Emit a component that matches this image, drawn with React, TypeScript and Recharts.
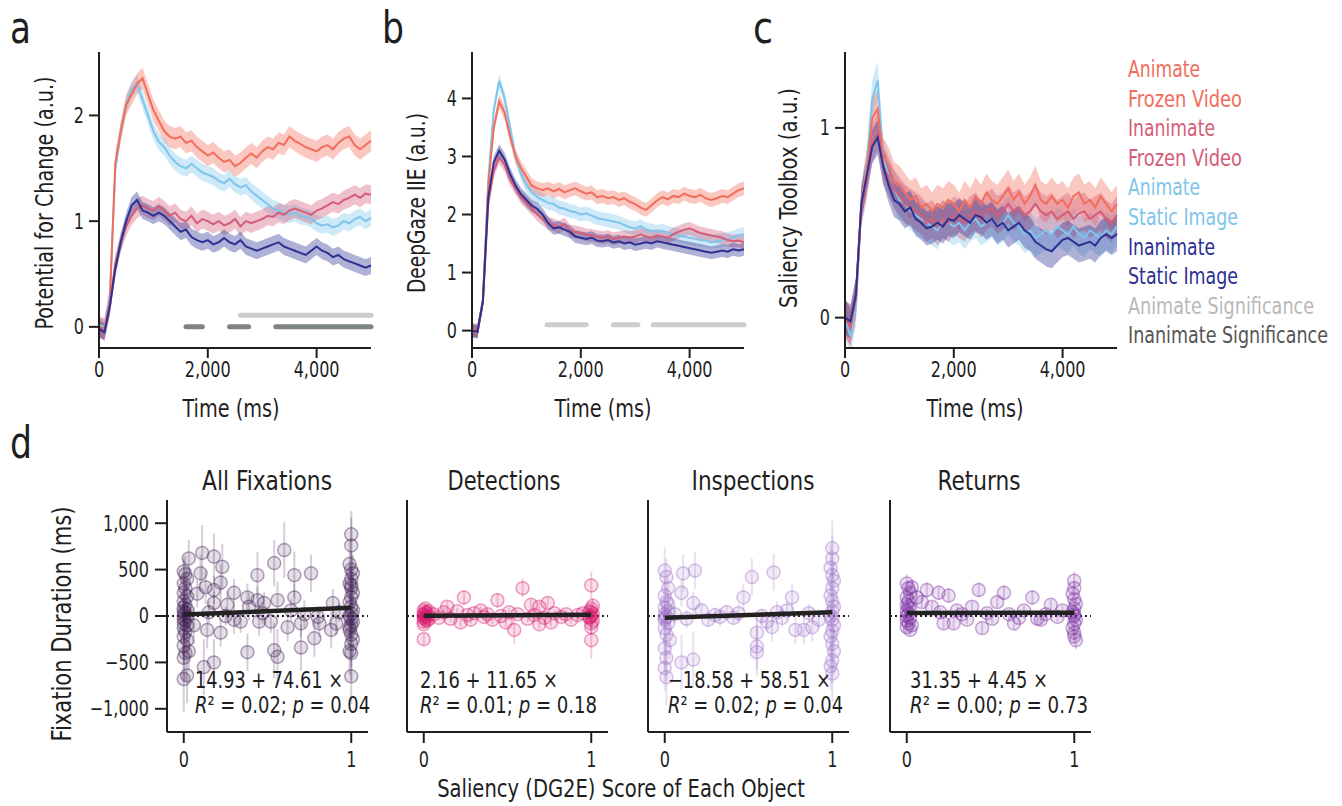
import React, { useLayoutEffect, useRef, useState } from "react";
import {
  ComposedChart,
  Area,
  Line,
  XAxis,
  YAxis,
  ReferenceLine,
  ScatterChart,
  Scatter,
  ErrorBar,
} from "recharts";

const FONT = "'Liberation Sans Narrow', 'DejaVu Sans Condensed', 'Arial Narrow', sans-serif";
const INK = "#1e1e1e";

const COL = { af: "#f26d5b", if: "#d45d78", as: "#7fc4ec", is: "#2c3192" };

// time axis (ms) for panels a–c
const times = [
  0, 100, 200, 300, 400, 500, 600, 700, 800, 900, 1000, 1100, 1200, 1300, 1400, 1500, 1600,
  1700, 1800, 1900, 2000, 2100, 2200, 2300, 2400, 2500, 2600, 2700, 2800, 2900, 3000, 3100,
  3200, 3300, 3400, 3500, 3600, 3700, 3800, 3900, 4000, 4100, 4200, 4300, 4400, 4500, 4600,
  4700, 4800, 4900, 5000,
];

// a: potential for change
const aAF = [0, -0.02, 0.25, 1.55, 1.85, 2.1, 2.2, 2.3, 2.35, 2.2, 2.05, 1.95, 1.85, 1.8, 1.78, 1.8, 1.74, 1.76, 1.7, 1.66, 1.62, 1.65, 1.6, 1.56, 1.58, 1.52, 1.55, 1.6, 1.64, 1.6, 1.66, 1.7, 1.68, 1.74, 1.72, 1.8, 1.76, 1.73, 1.7, 1.68, 1.66, 1.7, 1.72, 1.68, 1.74, 1.78, 1.8, 1.72, 1.68, 1.72, 1.76];
const aAS = [0.02, 0, 0.3, 1.5, 1.85, 2.1, 2.25, 2.3, 2.15, 2.0, 1.85, 1.75, 1.7, 1.62, 1.56, 1.52, 1.5, 1.54, 1.5, 1.46, 1.44, 1.42, 1.38, 1.36, 1.4, 1.35, 1.32, 1.34, 1.28, 1.24, 1.2, 1.16, 1.12, 1.1, 1.08, 1.06, 1.08, 1.05, 1.04, 1.02, 0.98, 0.96, 0.97, 0.94, 0.96, 1.0, 0.98, 1.02, 1.04, 1.0, 1.03];
const aIF = [0, -0.04, 0.2, 0.6, 0.8, 0.95, 1.05, 1.12, 1.15, 1.12, 1.1, 1.14, 1.1, 1.05, 1.08, 1.02, 1.0, 1.05, 0.98, 1.02, 1.0, 0.97, 1.0, 0.96, 0.98, 1.02, 0.95, 1.0, 0.98, 1.0, 1.02, 1.05, 1.04, 1.08, 1.06, 1.1, 1.12, 1.1, 1.08, 1.06, 1.1, 1.12, 1.15, 1.18, 1.16, 1.2, 1.22, 1.25, 1.22, 1.26, 1.25];
const aIS = [-0.02, -0.05, 0.2, 0.55, 0.8, 1.0, 1.15, 1.2, 1.1, 1.08, 1.05, 1.08, 1.05, 1.0, 0.95, 0.9, 0.92, 0.85, 0.82, 0.8, 0.82, 0.78, 0.8, 0.84, 0.8, 0.78, 0.82, 0.76, 0.74, 0.72, 0.74, 0.76, 0.78, 0.8, 0.76, 0.74, 0.72, 0.7, 0.68, 0.72, 0.76, 0.72, 0.7, 0.66, 0.68, 0.64, 0.62, 0.6, 0.58, 0.56, 0.58];

// b: DeepGaze IIE
const bAF = [0.02, 0, 0.5, 2.5, 3.5, 3.95, 3.75, 3.35, 3.0, 2.8, 2.65, 2.5, 2.45, 2.42, 2.45, 2.4, 2.44, 2.38, 2.42, 2.45, 2.4, 2.36, 2.38, 2.3, 2.32, 2.28, 2.3, 2.25, 2.28, 2.22, 2.18, 2.12, 2.08, 2.16, 2.24, 2.3, 2.26, 2.32, 2.3, 2.36, 2.32, 2.3, 2.34, 2.28, 2.25, 2.28, 2.32, 2.3, 2.36, 2.42, 2.45];
const bAS = [0, -0.02, 0.5, 2.6, 3.8, 4.3, 4.0, 3.5, 3.0, 2.7, 2.5, 2.38, 2.3, 2.25, 2.2, 2.18, 2.12, 2.1, 2.06, 2.04, 2.0, 2.02, 1.98, 1.94, 1.92, 1.9, 1.88, 1.86, 1.82, 1.78, 1.76, 1.8, 1.74, 1.72, 1.7, 1.72, 1.68, 1.66, 1.64, 1.62, 1.6, 1.58, 1.56, 1.55, 1.52, 1.54, 1.56, 1.58, 1.6, 1.64, 1.66];
const bIF = [0, -0.02, 0.5, 2.2, 2.75, 2.98, 2.85, 2.6, 2.45, 2.3, 2.2, 2.1, 2.0, 1.92, 1.85, 1.82, 1.78, 1.84, 1.72, 1.7, 1.68, 1.65, 1.64, 1.62, 1.6, 1.62, 1.58, 1.6, 1.62, 1.6, 1.62, 1.66, 1.62, 1.6, 1.64, 1.62, 1.6, 1.66, 1.7, 1.74, 1.76, 1.72, 1.68, 1.66, 1.64, 1.62, 1.6, 1.56, 1.54, 1.55, 1.52];
const bIS = [0, -0.02, 0.5, 2.3, 2.9, 3.1, 2.95, 2.7, 2.5, 2.35, 2.25, 2.15, 2.1, 2.0, 1.85, 1.76, 1.78, 1.74, 1.7, 1.62, 1.6, 1.58, 1.6, 1.55, 1.54, 1.56, 1.52, 1.54, 1.5, 1.52, 1.48, 1.5, 1.52, 1.5, 1.54, 1.52, 1.5, 1.48, 1.46, 1.44, 1.42, 1.4, 1.38, 1.36, 1.34, 1.36, 1.38, 1.36, 1.4, 1.38, 1.4];

// c: saliency toolbox
const cAF = [0, -0.05, 0.1, 0.6, 0.78, 1.05, 1.1, 0.85, 0.8, 0.72, 0.7, 0.66, 0.62, 0.64, 0.58, 0.6, 0.56, 0.6, 0.58, 0.62, 0.6, 0.56, 0.62, 0.58, 0.64, 0.6, 0.66, 0.62, 0.6, 0.64, 0.68, 0.62, 0.66, 0.6, 0.64, 0.7, 0.62, 0.6, 0.64, 0.6, 0.62, 0.58, 0.64, 0.66, 0.6, 0.62, 0.58, 0.64, 0.6, 0.56, 0.6];
const cAS = [0, -0.1, 0.05, 0.6, 0.8, 1.15, 1.25, 0.85, 0.75, 0.68, 0.62, 0.6, 0.56, 0.54, 0.52, 0.5, 0.48, 0.46, 0.52, 0.5, 0.48, 0.5, 0.46, 0.5, 0.52, 0.48, 0.5, 0.52, 0.48, 0.5, 0.54, 0.5, 0.48, 0.44, 0.46, 0.42, 0.44, 0.46, 0.44, 0.48, 0.46, 0.44, 0.48, 0.44, 0.42, 0.46, 0.44, 0.42, 0.46, 0.44, 0.48];
const cIF = [0, -0.05, 0.1, 0.58, 0.72, 0.92, 0.98, 0.8, 0.74, 0.68, 0.64, 0.6, 0.58, 0.56, 0.54, 0.5, 0.52, 0.48, 0.52, 0.5, 0.54, 0.52, 0.5, 0.54, 0.56, 0.52, 0.56, 0.58, 0.54, 0.56, 0.6, 0.56, 0.58, 0.54, 0.56, 0.6, 0.56, 0.54, 0.56, 0.52, 0.54, 0.56, 0.52, 0.55, 0.56, 0.52, 0.54, 0.56, 0.52, 0.5, 0.54];
const cIS = [0, -0.02, 0.12, 0.6, 0.75, 0.9, 0.95, 0.8, 0.7, 0.62, 0.6, 0.56, 0.58, 0.52, 0.5, 0.47, 0.48, 0.5, 0.48, 0.52, 0.51, 0.54, 0.52, 0.5, 0.54, 0.53, 0.5, 0.52, 0.48, 0.5, 0.46, 0.48, 0.5, 0.46, 0.44, 0.4, 0.38, 0.36, 0.35, 0.38, 0.41, 0.42, 0.4, 0.38, 0.39, 0.4, 0.38, 0.42, 0.44, 0.42, 0.44];

// standard-error half widths per panel
const seA = { af: 0.1, as: 0.08, if: 0.09, is: 0.08 };
const seB = { af: 0.12, as: 0.12, if: 0.11, is: 0.11 };
const seC = { af: 0.1, as: 0.1, if: 0.1, is: 0.09 };

// significance runs [start, end] in ms
const sigAAnimate = [[2600, 5000]];
const sigAInanimate = [[1600, 1900], [2400, 2750], [3250, 5000]];
const sigBAnimate = [[1380, 2100], [2600, 3050], [3330, 5000]];

// d: [saliency score, fixation duration, error]
const allFixPts = [
  [0, 480, 150], [0.01, 450, 200], [0.02, 400, 120], [0, 350, 250], [0.01, 300, 180], [0, 250, 200], [0.02, 210, 150], [0, 160, 120], [0.01, 120, 200], [0, 90, 150], [0.02, 70, 100], [0, 50, 120], [0.01, 30, 150], [0, 10, 100], [0.02, -10, 120], [0, -30, 150], [0.01, -50, 100], [0, -80, 200], [0.02, -100, 150], [0, -130, 120], [0.01, -170, 200], [0, -220, 250], [0.02, -260, 150], [0, -320, 200], [0.01, -400, 300], [0, -450, 250], [0.02, -640, 300], [0, -680, 350], [0.03, 620, 200], [0.03, -380, 200],
  [0.11, 680, 300], [0.18, 640, 250], [0.1, 460, 200], [0.13, 310, 180], [0.18, 280, 150], [0.23, 530, 250], [0.22, 360, 200], [0.3, 250, 150], [0.18, 140, 120], [0.26, 120, 150], [0.14, -150, 200], [0.22, -180, 150], [0.18, -500, 250], [0.12, -550, 300], [0.38, -390, 200], [0.38, 200, 150], [0.44, 440, 250], [0.44, 170, 150], [0.48, 140, 120], [0.45, -60, 150], [0.34, -60, 120], [0.3, -40, 150], [0.52, -60, 120], [0.54, 570, 250], [0.6, 710, 300], [0.56, 170, 200], [0.54, -370, 300], [0.56, -440, 300], [0.66, 440, 250], [0.66, 200, 150], [0.64, 60, 120], [0.7, -80, 150], [0.7, -340, 250], [0.76, 460, 200], [0.78, -240, 200], [0.81, -80, 150], [0.88, -150, 200], [0.89, 140, 150], [0.91, -80, 120], [0.39, 100, 150], [0.8, -10, 120], [0.62, -120, 150], [0.06, -100, 200], [0.08, 240, 150], [0.15, 40, 120], [0.25, 0, 100], [0.47, 30, 120], [0.72, 20, 150], [0.93, 40, 100],
  [1, 880, 250], [1, 760, 300], [0.99, 560, 250], [1, 500, 200], [1.01, 460, 200], [1, 400, 250], [0.99, 350, 200], [1, 300, 180], [1.01, 250, 200], [1, 200, 150], [0.99, 150, 150], [1, 100, 120], [1.01, 60, 150], [1, 30, 120], [0.99, 0, 100], [1, -30, 150], [1.01, -60, 120], [1, -100, 150], [0.99, -150, 200], [1, -200, 180], [1.01, -250, 200], [1, -300, 250], [0.99, -380, 250], [1, -400, 300], [1, -650, 300], [1, 330, 200], [0.99, -120, 120],
];
const detectPts = [
  [0, 60, 40], [0.01, 40, 50], [0, 20, 30], [0.02, 0, 40], [0, -20, 30], [0.01, -40, 50], [0, -60, 40], [0.02, 30, 40], [0.01, -10, 30], [0, 10, 30], [0.03, 50, 40], [0.02, -50, 40], [0, -250, 60], [0.01, 80, 50], [0.03, -30, 40], [0, -90, 50],
  [0.06, 20, 30], [0.09, -20, 30], [0.12, 40, 40], [0.14, 100, 60], [0.16, -30, 40], [0.2, 50, 40], [0.22, -70, 50], [0.24, 200, 80], [0.26, 10, 40], [0.28, -40, 40], [0.3, 30, 40], [0.34, 60, 50], [0.36, -10, 40], [0.38, 20, 40], [0.41, -40, 50], [0.44, 170, 80], [0.46, 0, 40], [0.49, -70, 50], [0.51, 40, 40], [0.54, -150, 150], [0.56, 20, 40], [0.59, 300, 100], [0.62, -30, 40], [0.64, 120, 60], [0.66, 10, 40], [0.69, 100, 60], [0.69, -90, 50], [0.72, -20, 40], [0.74, 140, 60], [0.76, -70, 50], [0.78, 30, 40], [0.82, -10, 40], [0.85, 20, 40], [0.88, -40, 40], [0.92, 10, 40], [0.95, 30, 40],
  [1, 330, 150], [1, -260, 200], [1, 80, 60], [0.99, 50, 50], [1.01, 20, 40], [1, 0, 40], [0.99, -20, 40], [1.01, -50, 50], [1, -80, 60], [1, 40, 40], [0.99, -10, 40], [1.01, 110, 80], [1, -120, 80],
];
const inspectPts = [
  [0, 490, 250], [0.01, 420, 200], [0.02, 300, 150], [0, 220, 200], [0.01, 150, 150], [0, 90, 120], [0.02, 50, 100], [0, 20, 100], [0.01, -10, 80], [0, -40, 100], [0.02, -80, 120], [0, -130, 150], [0.01, -200, 200], [0.03, -260, 200], [0, -350, 250], [0.01, -450, 250], [0.01, -660, 300], [0, -560, 250], [0.02, 130, 120], [0, -20, 100],
  [0.11, 460, 200], [0.18, 490, 200], [0.1, 250, 150], [0.17, 140, 120], [0.06, 20, 100], [0.13, -30, 100], [0.17, -470, 300], [0.1, -500, 300], [0.22, 60, 80], [0.26, -40, 80], [0.3, 10, 80], [0.33, -10, 100], [0.37, 40, 80], [0.41, -20, 80], [0.44, 30, 100], [0.47, 200, 150], [0.52, 420, 200], [0.55, -180, 200], [0.55, -330, 250], [0.55, -390, 250], [0.58, 0, 80], [0.61, -60, 100], [0.64, -120, 150], [0.65, 470, 200], [0.67, 40, 120], [0.7, -20, 100], [0.73, 60, 100], [0.76, 200, 150], [0.78, -150, 150], [0.83, -150, 150], [0.86, 30, 100], [0.88, -120, 150], [0.92, -40, 100],
  [1, 730, 300], [1, 620, 250], [0.99, 520, 250], [1, 440, 200], [1.01, 380, 200], [1, 300, 200], [0.99, 220, 150], [1, 160, 150], [1.01, 100, 120], [1, 50, 100], [0.99, 0, 100], [1, -40, 120], [1.01, -100, 150], [1, -160, 150], [0.99, -220, 200], [1, -300, 200], [1.01, -380, 250], [1, -480, 250], [1, -620, 300], [0.99, -540, 250],
];
const returnPts = [
  [0, 350, 100], [0.01, 300, 80], [0.02, 250, 80], [0, 200, 80], [0.01, 160, 60], [0, 120, 60], [0.02, 80, 50], [0, 50, 50], [0.01, 20, 40], [0, 0, 40], [0.02, -20, 40], [0, -50, 50], [0.01, -80, 50], [0, -120, 60], [0.02, -150, 60], [0.03, 310, 80], [0.03, -100, 50], [0.01, 100, 50],
  [0.06, 200, 80], [0.09, 150, 60], [0.12, 280, 80], [0.15, 100, 60], [0.19, 250, 80], [0.2, 40, 50], [0.22, -80, 60], [0.25, 220, 80], [0.28, -80, 60], [0.3, 60, 50], [0.33, 20, 50], [0.36, -40, 50], [0.39, 100, 60], [0.43, 280, 80], [0.45, -130, 60], [0.48, 30, 50], [0.51, -30, 50], [0.54, 150, 60], [0.58, 250, 80], [0.61, 20, 50], [0.64, -80, 60], [0.67, -20, 50], [0.7, 60, 50], [0.75, 200, 80], [0.78, -30, 50], [0.8, -40, 50], [0.83, 20, 50], [0.86, 120, 60], [0.9, -10, 50], [0.93, 60, 50],
  [1, 380, 100], [1, 300, 80], [0.99, 240, 80], [1, 180, 60], [1.01, 130, 60], [1, 80, 50], [0.99, 40, 50], [1, 0, 40], [1.01, -40, 50], [1, -80, 50], [0.99, -130, 60], [1, -180, 80], [1.01, -260, 100], [1, -220, 80], [1, 20, 40],
];

// regression [intercept, slope]
const fitAll = [14.93, 74.61];
const fitDet = [2.16, 11.65];
const fitInsp = [-18.58, 58.51];
const fitRet = [31.35, 4.45];

// legend: label, colour, rendered width
const legendItems: [string, string, number][] = [
  ["Animate", COL.af, 72], ["Frozen Video", COL.af, 114],
  ["Inanimate", COL.if, 87], ["Frozen Video", COL.if, 114],
  ["Animate", COL.as, 72], ["Static Image", COL.as, 110],
  ["Inanimate", COL.is, 87], ["Static Image", COL.is, 110],
  ["Animate Significance", "#b9b9b9", 186], ["Inanimate Significance", "#555555", 200],
];

const axisStroke = { stroke: INK, strokeWidth: 2 };
const fmt = (v: number) => (v < 0 ? "\u2212" : "") + Math.abs(v).toLocaleString("en-US");

// narrow tick label (condensed look)
const NarrowTick = (p: any) => {
  const dy = p.verticalAnchor === "start" ? "0.71em" : p.verticalAnchor === "end" ? "0" : "0.355em";
  return (
    <g transform={`translate(${p.x},${p.y})`}>
      <text transform="scale(0.85,1)" textAnchor={p.textAnchor} dy={dy} fontSize={21} fontFamily={FONT} fill={INK}>
        {fmt(p.payload.value)}
      </text>
    </g>
  );
};

const ORDER = ["as", "af", "if", "is"] as const;

function TimePanel({ left, series, se, domain, ticks, sigY = 0.1, sigAnim = [], sigInan = [] }: any) {
  const rows = times.map((t, i) => ({
    t,
    af: series.af[i],
    as: series.as[i],
    if: series.if[i],
    is: series.is[i],
  }));
  return (
    <div style={{ position: "absolute", left, top: 0 }}>
      <ComposedChart width={380} height={420} data={rows} margin={{ top: 52, right: 9, bottom: 0, left: 0 }}>
        <XAxis
          type="number"
          dataKey="t"
          domain={[0, 5000]}
          ticks={[0, 2000, 4000]}
          height={72}
          tick={NarrowTick}
          tickSize={10}
          tickMargin={4}
          axisLine={axisStroke}
          tickLine={axisStroke}
        />
        <YAxis
          type="number"
          domain={domain}
          ticks={ticks}
          allowDataOverflow
          width={99}
          tick={NarrowTick}
          tickSize={10}
          tickMargin={5}
          axisLine={axisStroke}
          tickLine={axisStroke}
        />
        {ORDER.map((k) => (
          <Area
            key={"band" + k}
            dataKey={(d: any) => [d[k] - se[k], d[k] + se[k]]}
            stroke="none"
            fill={COL[k]}
            fillOpacity={0.38}
            isAnimationActive={false}
          />
        ))}
        {ORDER.map((k) => (
          <Line
            key={"line" + k}
            dataKey={k}
            stroke={COL[k]}
            strokeWidth={2}
            dot={false}
            activeDot={false}
            isAnimationActive={false}
          />
        ))}
        {sigAnim.map(([a, b]: number[], i: number) => (
          <ReferenceLine
            key={"sa" + i}
            segment={[{ x: a, y: sigY }, { x: b, y: sigY }]}
            stroke="#cdcdcd"
            strokeWidth={5}
            strokeLinecap="round"
          />
        ))}
        {sigInan.map(([a, b]: number[], i: number) => (
          <ReferenceLine
            key={"si" + i}
            segment={[{ x: a, y: 0 }, { x: b, y: 0 }]}
            stroke="#7e8384"
            strokeWidth={5}
            strokeLinecap="round"
          />
        ))}
      </ComposedChart>
    </div>
  );
}

function FixPanel({ left, width, yw, labels, pts, color, fit }: any) {
  const data = pts.map(([x, y, err]: number[]) => ({ x, y, err }));
  const fitPts = [
    { x: 0, y: fit[0] },
    { x: 1, y: fit[0] + fit[1] },
  ];
  return (
    <div style={{ position: "absolute", left, top: 440 }}>
      <ScatterChart width={width} height={340} margin={{ top: 60, right: 12, bottom: 0, left: 0 }}>
        <XAxis
          type="number"
          dataKey="x"
          domain={[-0.1, 1.1]}
          ticks={[0, 1]}
          allowDataOverflow
          height={48}
          tick={NarrowTick}
          tickSize={11}
          tickMargin={9}
          axisLine={axisStroke}
          tickLine={axisStroke}
        />
        <YAxis
          type="number"
          dataKey="y"
          domain={[-1250, 1250]}
          ticks={[-1000, -500, 0, 500, 1000]}
          allowDataOverflow
          width={yw}
          tick={labels ? NarrowTick : false}
          tickSize={12}
          tickMargin={6}
          axisLine={axisStroke}
          tickLine={axisStroke}
        />
        <ReferenceLine y={0} stroke={INK} strokeWidth={1.8} strokeDasharray="2 3" />
        <Scatter
          data={data}
          isAnimationActive={false}
          shape={(p: any) => (
            <circle
              cx={p.cx}
              cy={p.cy}
              r={6.5}
              fill={color}
              fillOpacity={0.14}
              stroke={color}
              strokeOpacity={0.4}
              strokeWidth={1.5}
            />
          )}
        >
          <ErrorBar dataKey="err" direction="y" width={0} stroke={color} strokeOpacity={0.22} strokeWidth={2} />
        </Scatter>
        <Scatter
          data={fitPts}
          isAnimationActive={false}
          line={{ stroke: "#222", strokeWidth: 4.5 }}
          shape={() => <g />}
        />
      </ScatterChart>
    </div>
  );
}

// text squeezed horizontally to the width it has in the reference
function T({ x, y, w, size, anchor = "start", rot = false, fill = INK, children }: any) {
  const ref = useRef<SVGTextElement>(null);
  const [k, setK] = useState(0.85);
  useLayoutEffect(() => {
    const el = ref.current;
    if (!el) return;
    const n = el.getComputedTextLength();
    if (n > 0) setK(w / n);
  }, [w]);
  const tr = `translate(${x},${y})${rot ? " rotate(-90)" : ""} scale(${k},1)`;
  return (
    <text ref={ref} transform={tr} fontSize={size} textAnchor={anchor} fill={fill}>
      {children}
    </text>
  );
}

function Stat({ x, y1, eq, w1, r2, p, w2 }: any) {
  return (
    <g>
      <T x={x} y={y1} w={w1} size={23}>{eq}</T>
      <T x={x} y={y1 + 25} w={w2} size={23}>
        <tspan fontStyle="italic">R</tspan>
        <tspan>{"\u00b2 = " + r2 + "; "}</tspan>
        <tspan fontStyle="italic">p</tspan>
        <tspan>{" = " + p}</tspan>
      </T>
    </g>
  );
}

export default function App() {
  return (
    <div style={{ position: "absolute", left: 0, top: 0, width: 1342, height: 806, background: "#fff", fontFamily: FONT }}>
      <TimePanel left={0} series={{ af: aAF, as: aAS, if: aIF, is: aIS }} se={seA} domain={[-0.2, 2.6]} ticks={[0, 1, 2]} sigY={0.11} sigAnim={sigAAnimate} sigInan={sigAInanimate} />
      <TimePanel left={373} series={{ af: bAF, as: bAS, if: bIF, is: bIS }} se={seB} domain={[-0.3, 4.8]} ticks={[0, 1, 2, 3, 4]} sigY={0.1} sigAnim={sigBAnimate} />
      <TimePanel left={746} series={{ af: cAF, as: cAS, if: cIF, is: cIS }} se={seC} domain={[-0.16, 1.4]} ticks={[0, 1]} />

      <FixPanel left={60} width={320} yw={107} labels pts={allFixPts} color="#3f1d52" fit={fitAll} />
      <FixPanel left={387} width={233} yw={20} pts={detectPts} color="#d6176c" fit={fitDet} />
      <FixPanel left={628} width={233} yw={20} pts={inspectPts} color="#9d6fc8" fit={fitInsp} />
      <FixPanel left={870} width={233} yw={20} pts={returnPts} color="#7a2ea0" fit={fitRet} />

      <svg width={1342} height={806} style={{ position: "absolute", left: 0, top: 0, pointerEvents: "none" }} fontFamily={FONT} fill={INK}>
        <T x={10} y={43} w={21} size={44}>a</T>
        <T x={382} y={43} w={22} size={44}>b</T>
        <T x={753} y={43} w={20} size={44}>c</T>
        <T x={10} y={458} w={22} size={44}>d</T>

        <T x={231} y={417} w={97} size={24} anchor="middle">Time (ms)</T>
        <T x={603} y={417} w={97} size={24} anchor="middle">Time (ms)</T>
        <T x={975} y={417} w={97} size={24} anchor="middle">Time (ms)</T>

        <T x={53} y={203} w={253} size={24} anchor="middle" rot>Potential for Change (a.u.)</T>
        <T x={425} y={203} w={180} size={24} anchor="middle" rot>DeepGaze IIE (a.u.)</T>
        <T x={797} y={198} w={220} size={24} anchor="middle" rot>Saliency Toolbox (a.u.)</T>

        {legendItems.map(([label, c, w], i) => (
          <T key={i} x={1128} y={77 + i * 29.6} w={w} size={23} fill={c}>{label}</T>
        ))}

        <T x={267} y={490} w={130} size={27} anchor="middle">All Fixations</T>
        <T x={504} y={490} w={113} size={27} anchor="middle">Detections</T>
        <T x={753} y={490} w={123} size={27} anchor="middle">Inspections</T>
        <T x={979} y={490} w={83} size={27} anchor="middle">Returns</T>

        <T x={71} y={624} w={235} size={26} anchor="middle" rot>Fixation Duration (ms)</T>
        <T x={621} y={797} w={368} size={24} anchor="middle">Saliency (DG2E) Score of Each Object</T>

        <Stat x={195} y1={688} eq={"14.93 + 74.61 \u00d7"} w1={148} r2="0.02" p="0.04" w2={175} />
        <Stat x={420} y1={688} eq={"2.16 + 11.65 \u00d7"} w1={138} r2="0.01" p="0.18" w2={177} />
        <Stat x={668} y1={688} eq={"\u221218.58 + 58.51 \u00d7"} w1={163} r2="0.02" p="0.04" w2={175} />
        <Stat x={910} y1={688} eq={"31.35 + 4.45 \u00d7"} w1={138} r2="0.00" p="0.73" w2={178} />
      </svg>
    </div>
  );
}
